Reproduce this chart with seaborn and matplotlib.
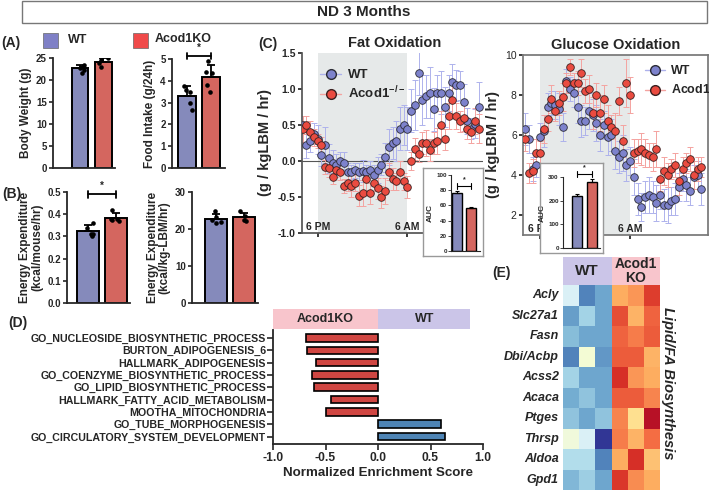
import numpy as np
import pandas as pd
import matplotlib
matplotlib.use("Agg")
import matplotlib.pyplot as plt
import matplotlib.transforms as mtransforms
from matplotlib.patches import Rectangle
from matplotlib.lines import Line2D
import seaborn as sns

# ---------------- data ----------------
groups = ["WT", "Acod1KO"]

# (A) body weight / food intake, individual mice
bw_wt = [23.5, 22.8, 22.3, 21.6, 23.0]
bw_ko = [24.5, 24.9, 23.9, 22.9]
food_wt = [3.6, 3.5, 3.75, 3.0, 2.65]
food_ko = [4.9, 4.35, 4.4, 3.5, 3.8]

# (B) energy expenditure
ee_mouse_wt = [0.36, 0.34, 0.31, 0.31, 0.30]
ee_mouse_ko = [0.42, 0.38, 0.38, 0.375, 0.37]
ee_lbm_wt = [24.8, 23.2, 22.0, 21.7, 22.3]
ee_lbm_ko = [24.8, 23.5, 22.3, 22.1]

# (C) indirect calorimetry, 30 min bins from 4 PM
hours = np.arange(0, 24, 0.5)
lights_off, lights_on = 2, 14

fat_wt = [0.50, 0.22, 0.28, 0.38, 0.30, 0.08, 0.22, 0.04, -0.03, -0.05, 0.00, -0.03,
          -0.15, -0.15, -0.13, -0.15, -0.14, -0.15, -0.12, -0.20, -0.12, -0.05, 0.05, 0.20,
          0.25, 0.28, 0.45, 0.50, 0.45, 0.70, 0.78, 1.22, 0.85, 0.90, 0.95, 0.72,
          0.95, 0.95, 0.75, 0.95, 1.10, 1.05, 1.05, 0.82, 0.55, 0.45, 0.52, 0.75]
fat_wt_err = [0.12, 0.18, 0.15, 0.15, 0.20, 0.15, 0.25, 0.20, 0.18, 0.15, 0.12, 0.15,
              0.12, 0.10, 0.10, 0.12, 0.15, 0.10, 0.12, 0.15, 0.18, 0.15, 0.20, 0.25,
              0.22, 0.28, 0.30, 0.28, 0.30, 0.30, 0.35, 0.30, 0.35, 0.30, 0.35, 0.30,
              0.25, 0.30, 0.28, 0.25, 0.25, 0.22, 0.20, 0.25, 0.18, 0.15, 0.20, 0.35]
fat_ko = [0.45, 0.50, 0.40, 0.33, 0.28, 0.22, -0.08, -0.10, -0.22, -0.12, -0.15, -0.35,
          -0.30, -0.35, -0.30, -0.48, -0.45, -0.25, -0.45, -0.30, -0.38, -0.50, -0.42, -0.15,
          -0.25, -0.28, -0.15, -0.28, -0.36, 0.00, 0.17, 0.10, 0.25, 0.25, 0.15, 0.25,
          0.28, 0.50, 0.30, 0.62, 0.85, 0.62, 0.55, 0.60, 0.45, 0.40, 0.55, 0.45]
fat_ko_err = [0.18, 0.12, 0.15, 0.12, 0.10, 0.12, 0.10, 0.12, 0.10, 0.10, 0.12, 0.10,
              0.12, 0.15, 0.12, 0.15, 0.18, 0.15, 0.15, 0.12, 0.15, 0.15, 0.18, 0.12,
              0.15, 0.12, 0.15, 0.12, 0.15, 0.12, 0.15, 0.12, 0.15, 0.18, 0.15, 0.15,
              0.18, 0.20, 0.15, 0.18, 0.20, 0.18, 0.15, 0.18, 0.15, 0.15, 0.18, 0.20]

glc_wt = [6.3, 5.8, 4.3, 4.5, 5.9, 6.2, 7.4, 7.6, 7.5, 7.3, 6.4, 8.7,
          8.3, 8.1, 7.4, 6.7, 6.7, 7.2, 7.0, 6.6, 6.0, 6.5, 5.9, 6.0,
          5.2, 4.9, 5.1, 4.5, 4.7, 3.9, 2.8, 2.4, 2.9, 3.0, 2.9, 2.6,
          3.0, 2.5, 2.5, 2.7, 2.8, 3.4, 3.8, 3.5, 3.2, 3.9, 4.0, 3.3]
glc_wt_err = [0.8, 0.7, 0.6, 0.6, 0.7, 0.8, 0.7, 0.6, 0.7, 0.8, 0.7, 0.6,
              0.6, 0.7, 0.8, 0.8, 0.7, 0.9, 0.8, 0.9, 0.8, 0.7, 0.9, 0.8,
              0.9, 0.8, 0.9, 0.8, 0.7, 0.9, 0.8, 0.7, 0.8, 0.9, 0.8, 0.9,
              0.7, 0.8, 0.9, 0.7, 0.8, 0.7, 0.6, 0.8, 0.7, 0.6, 0.7, 0.8]
glc_ko = [5.8, 4.1, 4.2, 5.1, 5.1, 6.3, 6.8, 7.8, 7.2, 7.6, 7.9, 8.6,
          9.4, 8.6, 8.6, 9.1, 8.2, 8.3, 7.1, 8.0, 7.1, 7.8, 6.7, 6.4,
          6.2, 7.7, 5.7, 8.6, 8.0, 5.1, 5.2, 5.3, 5.1, 5.0, 4.9, 5.3,
          3.8, 4.2, 4.0, 4.3, 4.5, 3.7, 4.3, 4.6, 4.8, 4.0, 4.3, 4.4]
glc_ko_err = [0.6, 0.5, 0.6, 0.7, 0.6, 0.7, 0.6, 0.7, 0.5, 0.6, 0.7, 0.5,
              0.4, 0.5, 0.6, 0.7, 0.6, 0.7, 0.8, 0.6, 0.9, 0.7, 0.8, 0.6,
              0.9, 0.7, 0.8, 1.2, 0.9, 0.7, 0.6, 0.8, 0.7, 0.6, 0.7, 0.9,
              0.6, 0.7, 0.6, 0.5, 0.6, 0.7, 0.6, 0.5, 0.6, 0.7, 0.6, 0.5]

auc_fat = [76, 56]
auc_fat_err = [3, 2.5]
auc_glc = [218, 280]
auc_glc_err = [10, 12]

# (D) GSEA
gsea_terms = ["GO_NUCLEOSIDE_BIOSYNTHETIC_PROCESS", "BURTON_ADIPOGENESIS_6",
              "HALLMARK_ADIPOGENESIS", "GO_COENZYME_BIOSYNTHETIC_PROCESS",
              "GO_LIPID_BIOSYNTHETIC_PROCESS", "HALLMARK_FATTY_ACID_METABOLISM",
              "MOOTHA_MITOCHONDRIA", "GO_TUBE_MORPHOGENESIS",
              "GO_CIRCULATORY_SYSTEM_DEVELOPMENT"]
gsea_nes = [-0.69, -0.68, -0.59, -0.63, -0.61, -0.45, -0.50, 0.60, 0.64]

# (E) heatmap z-scores
genes = ["Acly", "Slc27a1", "Fasn", "Dbi/Acbp", "Acss2", "Acaca", "Ptges", "Thrsp", "Aldoa", "Gpd1"]
samples = ["WT1", "WT2", "WT3", "KO1", "KO2", "KO3"]
heat_z = [[-0.45, -1.5, -1.25, 0.8, 0.95, 1.5],
          [-1.3, -0.85, -1.25, 1.4, 0.75, 1.25],
          [-1.05, -1.25, -1.25, 1.25, 1.1, 1.3],
          [-1.5, -0.15, -1.35, 1.3, 1.3, 0.75],
          [-0.85, -1.25, -1.25, 1.6, 0.95, 0.8],
          [-1.2, -1.0, -1.25, 1.3, 1.3, 1.05],
          [-1.0, -1.25, -1.0, 1.05, 0.4, 1.85],
          [-0.2, -0.45, -2.0, 1.1, 0.75, 1.2],
          [-0.75, -0.75, -1.5, 0.8, 1.6, 0.65],
          [-1.1, -0.9, -1.25, 1.55, 1.0, 0.8]]

# ---------------- style ----------------
sns.set_theme(style="ticks")
plt.rcParams["font.family"] = ["Liberation Sans", "DejaVu Sans"]
plt.rcParams["font.weight"] = "bold"
plt.rcParams["axes.labelweight"] = "bold"
plt.rcParams["axes.titleweight"] = "bold"
plt.rcParams["mathtext.default"] = "regular"
plt.rcParams["axes.unicode_minus"] = False

wt_color = "#7C82C4"
ko_color = "#E8554B"
wt_point, ko_point = "#7D82CC", "#EA4B40"
wt_errc, ko_errc = "#AEB2EC", "#F4A3A0"
shade = "#E6E9E9"
pink, lav = "#F8C5CC", "#CBC5E8"

W, H = 709, 491
fig = plt.figure(figsize=(W / 100, H / 100), dpi=100)


def add_ax(l, t, r, b):
    return fig.add_axes([l / W, 1 - b / H, (r - l) / W, (b - t) / H])


def bar_panel(ax, wt, ko, ylim, yticks, ylabel, xlim, width, label_fs, sig=None):
    df = pd.DataFrame({"group": ["WT"] * len(wt) + ["Acod1KO"] * len(ko),
                       "value": list(wt) + list(ko)})
    sns.barplot(data=df, x="group", y="value", hue="group", palette=[wt_color, ko_color],
                errorbar=None, width=width, edgecolor="black", linewidth=1.4,
                legend=False, ax=ax)
    stats = df.groupby("group", sort=False)["value"].agg(["mean", "std"])
    ax.errorbar(range(len(stats)), stats["mean"], yerr=[np.zeros(len(stats)), stats["std"]],
                fmt="none", ecolor="black", elinewidth=1.3, capsize=3, capthick=1.3, zorder=3)
    sns.stripplot(data=df, x="group", y="value", color="black", size=3.3, jitter=0.2,
                  ax=ax, zorder=4)
    ax.set_xlim(*xlim)
    ax.set_ylim(*ylim)
    ax.set_yticks(yticks)
    ax.set_xticks([])
    ax.set_xlabel("")
    ax.set_ylabel(ylabel, fontsize=label_fs, labelpad=3, linespacing=1.0)
    sns.despine(ax=ax)
    for sp in ax.spines.values():
        sp.set_linewidth(1.3)
    ax.tick_params(axis="y", labelsize=7, width=1.2, length=3, pad=1.5)
    if sig is not None:
        y, h = sig
        ax.plot([0, 1], [y, y], color="black", lw=1.3, clip_on=False)
        ax.plot([0, 0], [y - h, y + h], color="black", lw=1.3, clip_on=False)
        ax.plot([1, 1], [y - h, y + h], color="black", lw=1.3, clip_on=False)
        ax.text(0.5, y + h, "*", ha="center", va="bottom", fontsize=7, clip_on=False)


def time_panel(ax, wt, wt_err, ko, ko_err):
    ax.axvspan(lights_off, lights_on, color=shade, lw=0, zorder=0)
    ax.errorbar(hours, wt, yerr=wt_err, fmt="none", ecolor=wt_errc, elinewidth=0.7,
                capsize=2, capthick=0.7, zorder=1)
    ax.errorbar(hours, ko, yerr=ko_err, fmt="none", ecolor=ko_errc, elinewidth=0.7,
                capsize=2, capthick=0.7, zorder=1)
    sns.scatterplot(x=hours, y=wt, color=wt_point, edgecolor="#2b2b35", linewidth=0.6,
                    s=30, ax=ax, zorder=3, legend=False)
    sns.scatterplot(x=hours, y=ko, color=ko_point, edgecolor="#3a2020", linewidth=0.6,
                    s=30, ax=ax, zorder=4, legend=False)
    ax.set_xticks([lights_off, lights_on], ["6 PM", "6 AM"])
    ax.tick_params(axis="x", pad=-11, length=3, labelsize=7.5)
    ax.tick_params(axis="y", labelsize=7.5, length=3, pad=1.5)
    ax.set_ylabel("(g / kgLBM / hr)", fontsize=10.5, labelpad=4)
    handles = [Line2D([], [], marker="o", color=wt_errc, markerfacecolor=wt_point,
                      markeredgecolor="#2b2b35", markersize=7, lw=1),
               Line2D([], [], marker="o", color=ko_errc, markerfacecolor=ko_point,
                      markeredgecolor="#3a2020", markersize=7, lw=1)]
    return handles


def auc_inset(box, bars, vals, errs, ylim, yticks, sig_y, xlim):
    bx = add_ax(*box)
    bx.set_xticks([])
    bx.set_yticks([])
    bx.set_facecolor("white")
    for sp in bx.spines.values():
        sp.set_color("#999999")
        sp.set_linewidth(1.0)
    bx.set_zorder(5)
    ix = add_ax(*bars)
    ix.set_zorder(6)
    ix.patch.set_alpha(0)
    sns.barplot(x=groups, y=vals, hue=groups, palette=[wt_color, ko_color], width=0.68,
                edgecolor="black", linewidth=1.0, legend=False, ax=ix)
    ix.errorbar(range(2), vals, yerr=[[0, 0], errs], fmt="none", ecolor="black",
                elinewidth=0.8, capsize=1.5, capthick=0.8)
    ix.set_xlim(*xlim)
    ix.set_ylim(*ylim)
    ix.set_yticks(yticks)
    ix.set_xticks([])
    ix.set_xlabel("")
    ix.set_ylabel("AUC", fontsize=6, labelpad=2)
    sns.despine(ax=ix)
    for sp in ix.spines.values():
        sp.set_linewidth(0.8)
    ix.tick_params(axis="y", labelsize=4.5, length=2, width=0.6, pad=1)
    h = (ylim[1] - ylim[0]) * 0.04
    ix.plot([0, 1], [sig_y, sig_y], color="black", lw=0.8, clip_on=False)
    ix.plot([0, 0], [sig_y - h, sig_y + h], color="black", lw=0.8, clip_on=False)
    ix.plot([1, 1], [sig_y - h, sig_y + h], color="black", lw=0.8, clip_on=False)
    ix.text(0.5, sig_y + h, "*", ha="center", va="bottom", fontsize=5)


np.random.seed(4)

# ---------------- header ----------------
fig.patches.append(Rectangle((22 / W, 1 - 23 / H), (707 - 22) / W, 22 / H,
                             transform=fig.transFigure, fill=False, edgecolor="#777777", lw=1))
fig.text(364 / W, 1 - 12.5 / H, "ND 3 Months", ha="center", va="center", fontsize=11)

fig.patches.append(Rectangle((43 / W, 1 - 48 / H), 15 / W, 15 / H, transform=fig.transFigure,
                             facecolor="#7F80C6", edgecolor="#666666", lw=0.5))
fig.text(68 / W, 1 - 40 / H, "WT", ha="left", va="center", fontsize=9)
fig.patches.append(Rectangle((133 / W, 1 - 48 / H), 15 / W, 15 / H, transform=fig.transFigure,
                             facecolor="#F04A4A", edgecolor="#666666", lw=0.5))
fig.text(155 / W, 1 - 39 / H, "Acod1KO", ha="left", va="center", fontsize=9)

for lab, x, y in [("(A)", 1, 43), ("(B)", 2, 194), ("(C)", 258, 44), ("(D)", 8, 323), ("(E)", 492, 273)]:
    fig.text(x / W, 1 - y / H, lab, ha="left", va="center", fontsize=10)

# ---------------- (A) ----------------
ax = add_ax(53, 58, 115, 168)
bar_panel(ax, bw_wt, bw_ko, (0, 25), [0, 5, 10, 15, 20, 25], "Body Weight (g)",
          (-1.15, 1.49), 0.72, 8.5)
ax = add_ax(172, 59, 225, 168)
bar_panel(ax, food_wt, food_ko, (0, 5), [0, 1, 2, 3, 4, 5], "Food Intake (g/24h)",
          (-0.62, 1.58), 0.74, 8.5, sig=(5.12, 0.14))

# ---------------- (B) ----------------
ax = add_ax(67, 192, 130, 303)
bar_panel(ax, ee_mouse_wt, ee_mouse_ko, (0, 0.5), [0.0, 0.1, 0.2, 0.3, 0.4, 0.5],
          "Energy Expenditure\n(kcal/mouse/hr)", (-0.75, 1.5), 0.79, 8.5, sig=(0.49, 0.015))
ax.set_yticks([0.0, 0.1, 0.2, 0.3, 0.4, 0.5], ["0.0", "0.1", "0.2", "0.3", "0.4", "0.5"])
ax = add_ax(192, 192, 258, 303)
bar_panel(ax, ee_lbm_wt, ee_lbm_ko, (0, 30), [0, 10, 20, 30],
          "Energy Expenditure\n(kcal/kg-LBM/hr)", (-0.86, 1.5), 0.79, 8.5)

# ---------------- (C) fat oxidation ----------------
axf = add_ax(302, 53, 483, 233)
handles = time_panel(axf, fat_wt, fat_wt_err, fat_ko, fat_ko_err)
axf.axhline(0, color="#555555", lw=0.8, zorder=0.5)
axf.set_xlim(-0.1, 24.1)
axf.set_ylim(-1.0, 1.5)
axf.set_yticks([-1.0, -0.5, 0.0, 0.5, 1.0, 1.5])
sns.despine(ax=axf)
for sp in axf.spines.values():
    sp.set_color("#555555")
axf.set_title("Fat Oxidation", fontsize=10.5, pad=4, x=0.51)
axf.legend(handles, ["WT", "Acod1$^{-/-}$"], loc="upper left", bbox_to_anchor=(0.07, 0.94),
           frameon=False, prop={"weight": "bold", "size": 9.5}, handlelength=1.6,
           handletextpad=0.5, borderaxespad=0, labelspacing=0.25)
auc_inset((423, 168, 483, 256), (451, 175, 480, 251), auc_fat, auc_fat_err,
          (0, 100), [0, 20, 40, 60, 80, 100], 85, (-0.41, 1.6))

# ---------------- (C) glucose oxidation ----------------
axg = add_ax(523, 55, 708, 235)
handles = time_panel(axg, glc_wt, glc_wt_err, glc_ko, glc_ko_err)
axg.set_xlim(-0.27, 24.4)
axg.set_ylim(1, 10)
axg.set_yticks([2, 4, 6, 8, 10])
for lab in axg.get_yticklabels():
    lab.set_fontweight("normal")
for sp in axg.spines.values():
    sp.set_color("#777777")
axg.set_title("Glucose Oxidation", fontsize=10.5, pad=4)
axg.legend(handles, ["WT", "Acod1$^{-/-}$"], loc="upper left", bbox_to_anchor=(0.63, 0.97),
           frameon=False, prop={"weight": "bold", "size": 9}, handlelength=1.6,
           handletextpad=0.5, borderaxespad=0, labelspacing=0.3)
auc_inset((540, 163, 603, 253), (563, 177, 600, 248), auc_glc, auc_glc_err,
          (0, 300), [0, 100, 200, 300], 312, (-0.93, 1.53))

# ---------------- (D) GSEA ----------------
axd = add_ax(273, 330, 483, 444)
d_colors = ["#E8302A" if v < 0 else "#3D85C6" for v in gsea_nes]
sns.barplot(x=gsea_nes, y=gsea_terms, hue=gsea_terms, palette=d_colors, legend=False,
            width=0.62, edgecolor="black", linewidth=1.2, ax=axd)
axd.set_xlim(-1, 1)
axd.set_ylim(8.6, -0.65)
axd.set_xticks([-1, -0.5, 0, 0.5, 1], ["-1.0", "-0.5", "0.0", "0.5", "1.0"])
axd.tick_params(axis="x", labelsize=8.7, length=4, width=1.2, pad=2)
axd.tick_params(axis="y", labelsize=7.7, length=4, width=1.2, pad=1)
axd.set_xlabel("Normalized Enrichment Score", fontsize=9.6, labelpad=2)
axd.set_ylabel("")
sns.despine(ax=axd)
for sp in axd.spines.values():
    sp.set_linewidth(1.3)
trans = mtransforms.blended_transform_factory(axd.transData, axd.transAxes)
axd.add_patch(Rectangle((-1, 1.01), 1, 0.175, transform=trans, facecolor=pink, lw=0, clip_on=False))
axd.add_patch(Rectangle((0, 1.01), 0.88, 0.175, transform=trans, facecolor=lav, lw=0, clip_on=False))
axd.text(-0.5, 1.0975, "Acod1KO", transform=trans, ha="center", va="center", fontsize=9)
axd.text(0.44, 1.0975, "WT", transform=trans, ha="center", va="center", fontsize=9)

# ---------------- (E) heatmap ----------------
axe = add_ax(563, 285, 660, 490)
heat_df = pd.DataFrame(heat_z, index=genes, columns=samples)
sns.heatmap(heat_df, cmap="RdYlBu_r", vmin=-2, vmax=2, cbar=False, xticklabels=False,
            yticklabels=True, ax=axe)
axe.tick_params(axis="y", length=0, pad=3)
for lab in axe.get_yticklabels():
    lab.set_rotation(0)
    lab.set_fontstyle("italic")
    lab.set_fontweight("bold")
    lab.set_fontsize(9)
axe.add_patch(Rectangle((0, 1.0), 0.5, 0.137, transform=axe.transAxes, facecolor=lav, lw=0, clip_on=False))
axe.add_patch(Rectangle((0.5, 1.0), 0.5, 0.137, transform=axe.transAxes, facecolor=pink, lw=0, clip_on=False))
axe.text(0.25, 1.068, "WT", transform=axe.transAxes, ha="center", va="center", fontsize=11)
axe.text(0.75, 1.068, "Acod1\nKO", transform=axe.transAxes, ha="center", va="center",
         fontsize=10, linespacing=0.95)
fig.text(668 / W, 1 - 383 / H, "Lipid/FA Biosynthesis", rotation=-90, ha="center", va="center",
         fontsize=10.5, fontstyle="italic")

fig.savefig("out.png", dpi=100)
